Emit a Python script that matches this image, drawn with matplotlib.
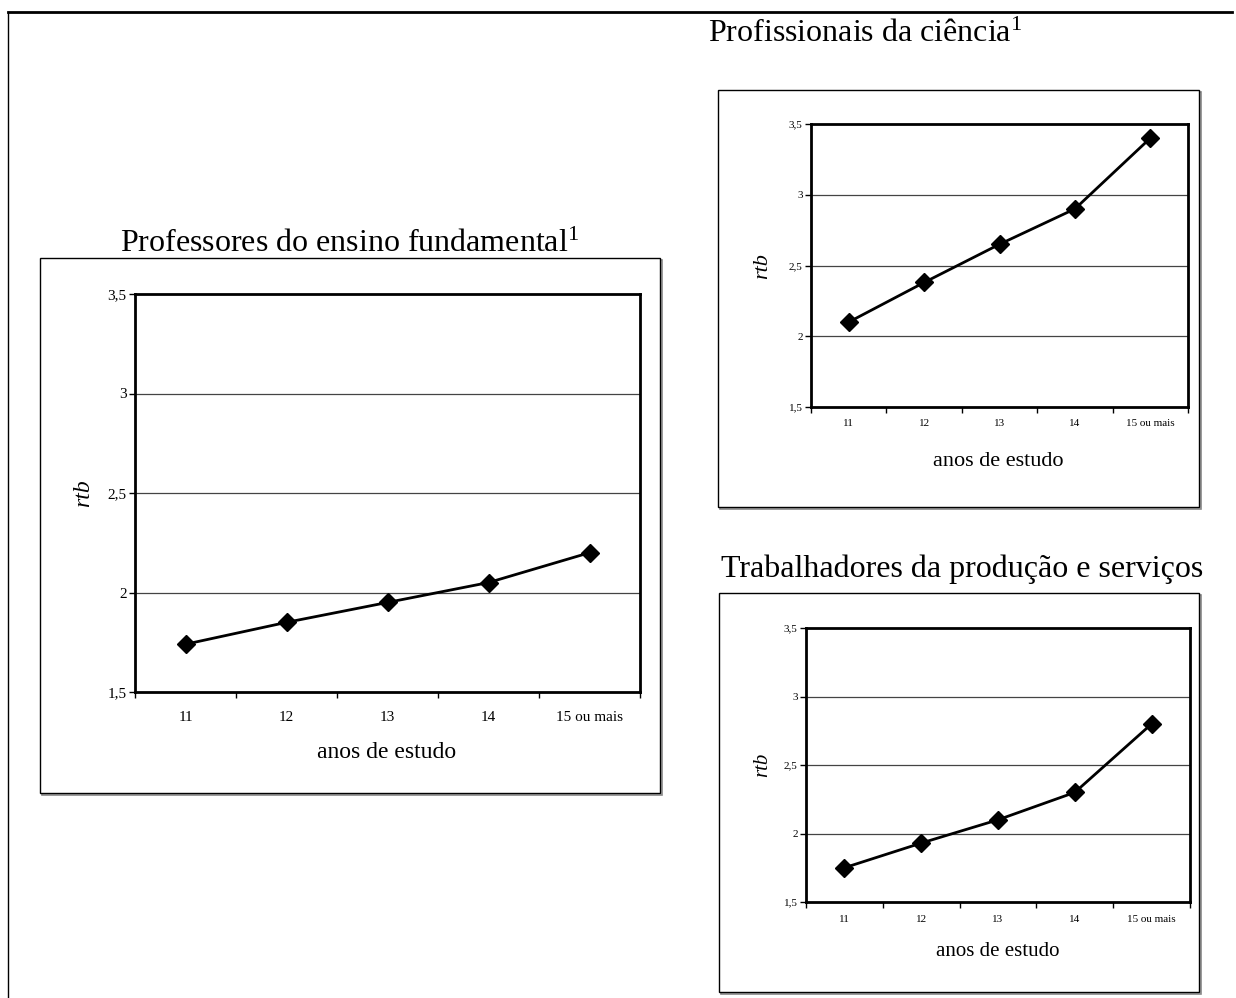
import matplotlib
matplotlib.use("Agg")
import matplotlib.pyplot as plt
from matplotlib.patches import Rectangle
from matplotlib.lines import Line2D

plt.rcParams['font.family'] = ['Liberation Serif', 'DejaVu Serif']
plt.rcParams['mathtext.fontset'] = 'custom'
plt.rcParams['mathtext.rm'] = 'Liberation Serif'
plt.rcParams['mathtext.it'] = 'Liberation Serif:italic'

categorias = ['11', '12', '13', '14', '15 ou mais']
professores = [1.74, 1.85, 1.95, 2.05, 2.20]
profissionais = [2.10, 2.38, 2.65, 2.90, 3.40]
trabalhadores = [1.75, 1.93, 2.10, 2.30, 2.80]
yticks = [1.5, 2.0, 2.5, 3.0, 3.5]
ylabels = ['1,5', '2', '2,5', '3', '3,5']

W, H = 1236, 998
fig = plt.figure(figsize=(W / 100, H / 100), dpi=100)


def fx(x):
    return x / W


def fy(y):
    return 1 - y / H


def caixa(x0, y0, x1, y1):
    # moldura do grafico (estilo Excel, com leve sombra)
    fig.patches.append(Rectangle((fx(x0 + 2), fy(y1 + 2)), fx(x1 - x0), (y1 - y0) / H,
                                 transform=fig.transFigure, fill=False,
                                 edgecolor='#888888', lw=1.2, zorder=-6))
    fig.patches.append(Rectangle((fx(x0), fy(y1)), fx(x1 - x0), (y1 - y0) / H,
                                 transform=fig.transFigure, facecolor='white',
                                 edgecolor='black', lw=1.0, zorder=-5))


def grafico(rect, valores, titulo, tpos, tick_fs, lab_fs, ypos, xpos):
    x0, y0, x1, y1 = rect
    ax = fig.add_axes([fx(x0), fy(y1), fx(x1 - x0), (y1 - y0) / H])
    x = list(range(len(categorias)))
    ax.plot(x, valores, color='black', lw=2, marker='D', markersize=9, zorder=3)
    ax.set_xlim(-0.5, len(categorias) - 0.5)
    ax.set_ylim(1.5, 3.5)
    for v in yticks[1:-1]:
        ax.axhline(v, color='#444444', lw=0.9, zorder=1)
    ax.set_yticks(yticks)
    ax.set_yticklabels(ylabels, fontsize=tick_fs)
    ax.set_xticks([i - 0.5 for i in range(len(categorias) + 1)])
    ax.set_xticklabels([])
    ax.set_xticks(x, minor=True)
    ax.set_xticklabels(categorias, minor=True, fontsize=tick_fs)
    ax.tick_params(axis='x', which='minor', length=0, pad=14 if tick_fs > 9 else 9)
    ax.tick_params(axis='both', which='major', direction='out', length=4, width=1)
    ax.tick_params(axis='y', pad=2)
    for s in ax.spines.values():
        s.set_linewidth(2)
    fig.text(fx(ypos[0]), fy(ypos[1]), 'rtb', style='italic', fontsize=lab_fs,
             rotation=90, ha='center', va='center')
    fig.text(fx(xpos[0]), fy(xpos[1]), 'anos de estudo', fontsize=lab_fs,
             ha='center', va='center')
    fig.text(fx(tpos[0]), fy(tpos[1]), titulo, fontsize=23, ha='center', va='center')
    return ax


# moldura da pagina
fig.add_artist(Line2D([fx(8), fx(1232)], [fy(12), fy(12)], color='black', lw=2))
fig.add_artist(Line2D([fx(8), fx(8)], [fy(12), fy(998)], color='black', lw=1))

caixa(40, 258, 660, 793)
caixa(718, 90, 1199, 507)
caixa(719, 593, 1199, 992)

grafico((135, 294, 640, 692), professores,
        'Professores do ensino fundamental$^{1}$', (350, 244), 11, 17,
        (84, 493), (387, 752))
grafico((811, 124, 1188, 407), profissionais,
        'Profissionais da ciência$^{1}$', (865, 34), 8, 16,
        (763, 266), (998, 461))
grafico((806, 628, 1190, 902), trabalhadores,
        'Trabalhadores da produção e serviços', (962, 569), 8, 15,
        (763, 765), (998, 952))

fig.savefig('out.png', dpi=100)
